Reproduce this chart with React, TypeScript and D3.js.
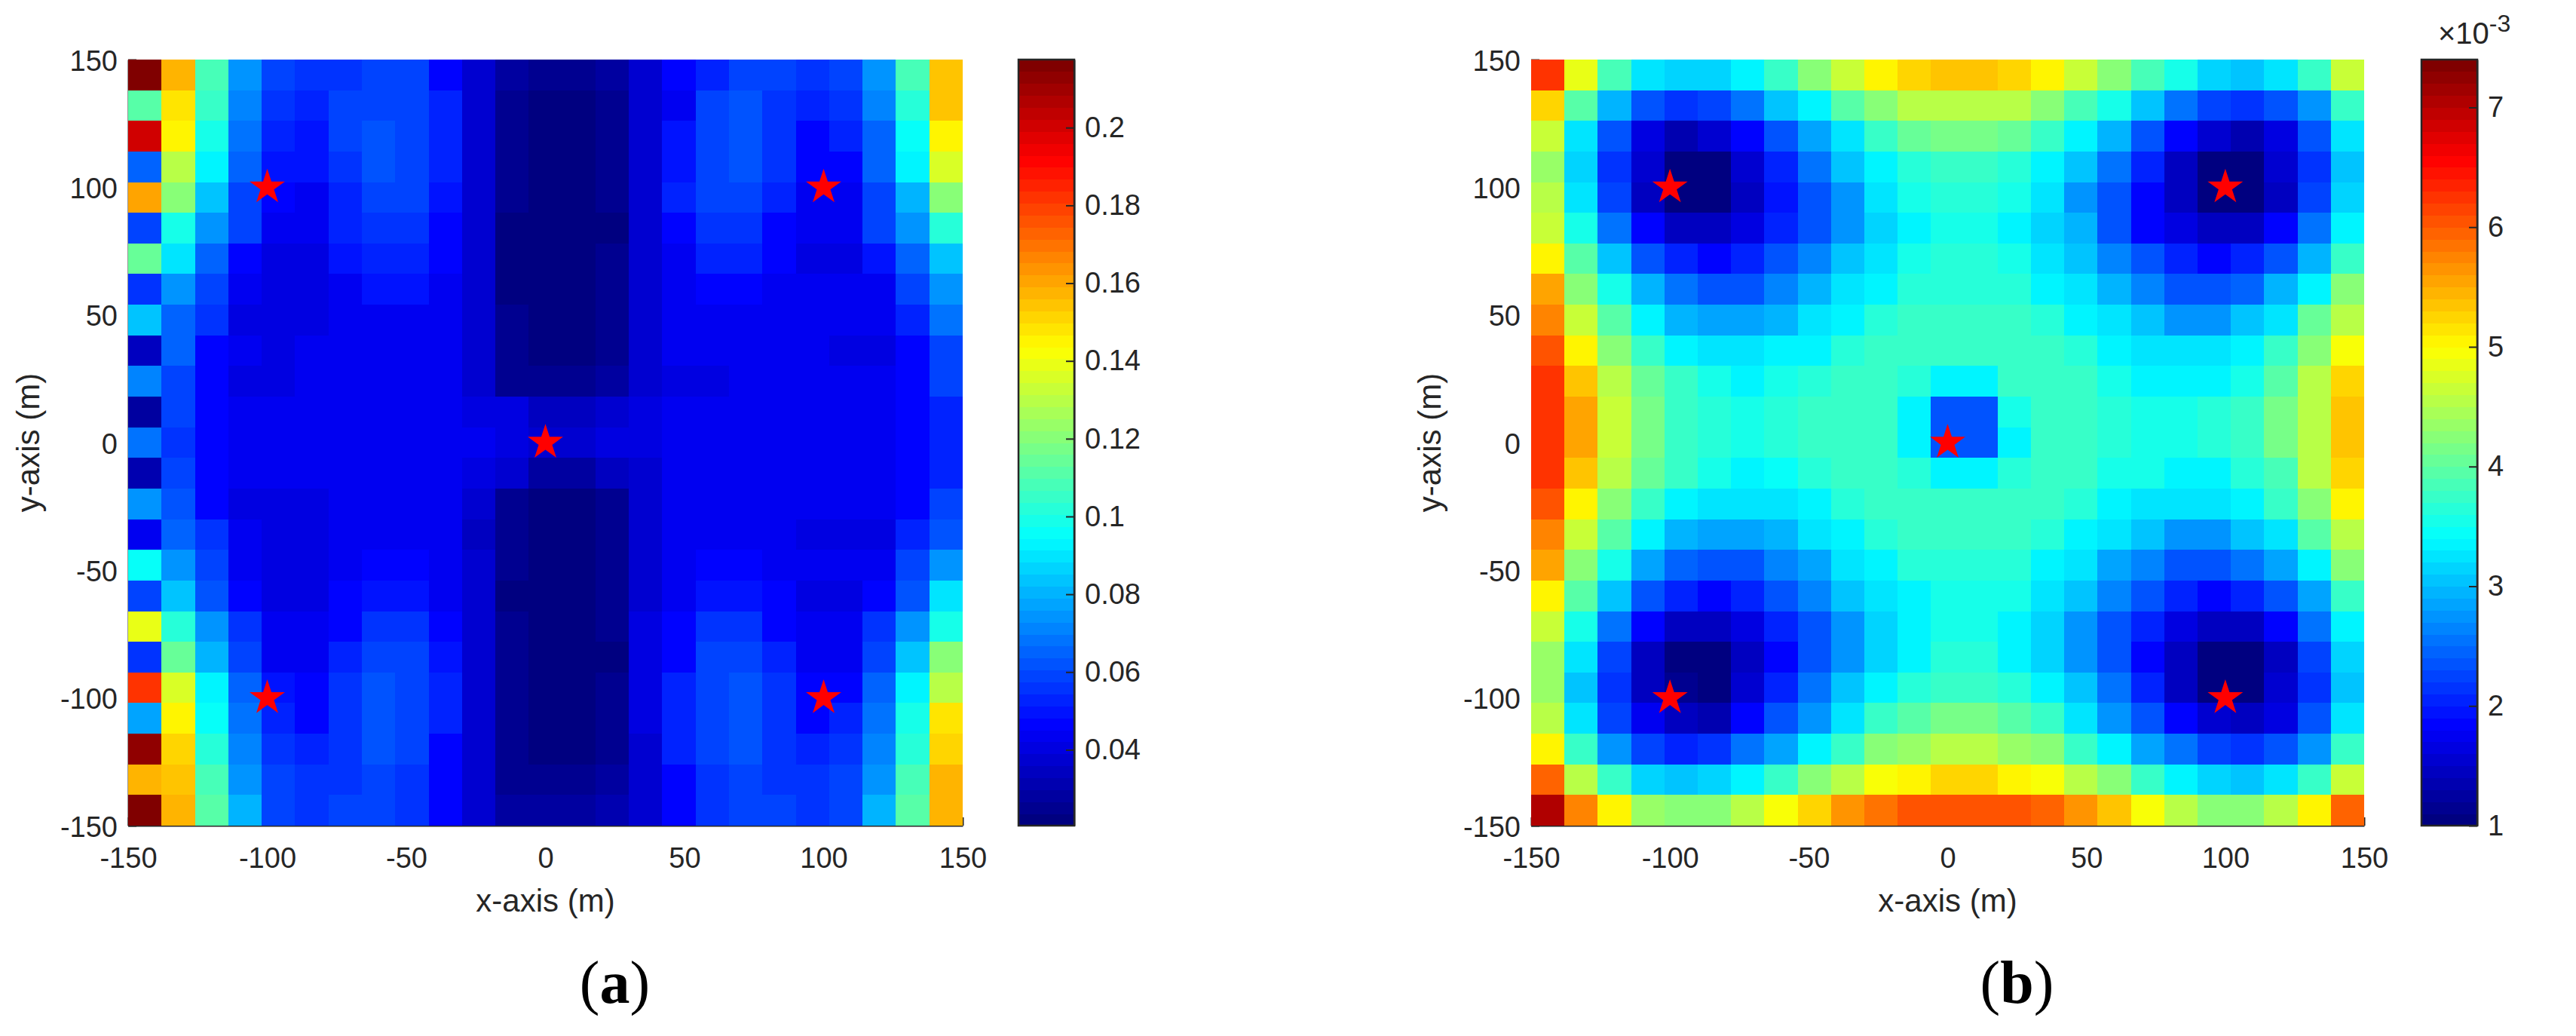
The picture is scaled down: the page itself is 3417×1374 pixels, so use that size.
import React, { useEffect, useRef } from 'react';
import * as d3 from 'd3';

// values in units of 1e-3, rows run from y = 150 down to y = -150
const rowsA = [
  [217,158,107,73,59,56,56,59,58,48,38,27,25,25,27,38,47,53,58,58,55,58,73,107,155],
  [110,148,104,70,56,53,58,60,59,53,38,26,22,22,26,38,45,58,61,55,52,55,70,102,153],
  [200,146,99,67,53,50,58,61,59,53,37,26,22,22,26,38,50,58,61,55,48,52,66,97,144],
  [64,131,94,66,50,49,56,61,58,53,37,26,22,22,26,38,50,58,61,55,47,47,66,94,135],
  [162,119,85,60,47,45,54,59,59,50,37,25,22,22,25,37,52,58,58,53,45,45,59,82,119],
  [60,99,73,58,44,44,53,56,56,48,36,23,22,22,21,38,46,55,55,47,45,45,58,73,102],
  [114,90,66,48,42,42,50,53,53,46,36,23,22,21,24,38,45,52,52,47,42,42,50,64,85],
  [56,73,60,45,42,42,43,50,50,45,36,23,21,21,24,36,43,48,48,45,43,43,45,58,73],
  [85,66,55,42,42,42,44,45,45,43,36,24,23,23,26,36,43,45,45,45,43,43,45,52,67],
  [34,64,46,44,42,43,44,45,45,44,37,26,23,23,26,36,43,45,45,45,43,42,42,46,58],
  [70,60,47,42,42,44,45,45,45,44,37,26,25,25,27,36,41,42,45,45,45,45,45,46,58],
  [27,58,47,45,45,45,45,45,45,45,42,41,35,35,37,41,43,45,45,45,45,45,45,46,53],
  [67,55,46,45,45,45,45,45,45,45,43,42,38,38,40,42,43,45,45,45,45,45,45,46,53],
  [30,59,47,45,43,45,45,45,44,43,40,38,27,27,33,37,43,45,45,45,45,43,43,46,53],
  [75,62,47,42,42,42,44,45,45,44,36,26,23,23,26,36,43,45,45,45,45,43,45,46,60],
  [45,66,56,45,42,42,43,44,44,43,35,24,23,21,24,36,43,45,45,45,42,42,42,52,63],
  [97,73,58,45,42,42,43,46,46,44,36,24,21,21,26,37,45,46,46,45,43,43,45,58,73],
  [58,85,63,46,42,42,46,51,51,45,36,23,21,21,26,37,45,51,51,47,42,42,46,63,90],
  [138,102,73,55,45,45,46,55,55,47,36,24,21,21,25,40,46,55,55,47,45,45,56,73,100],
  [56,113,82,58,45,45,52,59,59,50,38,24,21,21,21,40,47,59,59,52,45,45,58,83,119],
  [181,135,94,64,50,48,55,61,58,52,38,24,21,21,26,40,52,58,61,55,48,48,64,92,131],
  [76,144,97,67,52,47,56,61,59,52,38,24,21,21,26,40,52,58,61,55,48,52,67,99,147],
  [212,151,102,70,55,52,56,61,59,48,38,24,21,21,26,38,52,58,61,55,52,55,70,102,150],
  [158,155,107,73,59,56,56,58,56,48,38,26,24,24,27,38,48,55,58,56,56,58,73,107,156],
  [217,158,112,79,60,56,58,58,56,48,38,28,28,28,30,38,48,55,58,58,55,59,79,112,158],
];

const rowsB = [
  [6.2,4.85,3.85,3.3,3.1,3.1,3.4,3.8,4.25,4.65,5,5.2,5.3,5.3,5.2,5,4.65,4.25,3.9,3.5,3.1,3,3.2,3.8,4.65],
  [5.2,3.95,2.9,2.3,2.1,2.2,2.55,3,3.4,3.95,4.2,4.5,4.6,4.6,4.5,4.25,3.9,3.5,3,2.55,2.25,2.15,2.3,2.8,3.7],
  [4.65,3.3,2.3,1.7,1.35,1.5,1.9,2.3,2.85,3.3,3.7,4,4.1,4.1,4,3.7,3.4,2.9,2.4,1.9,1.5,1.35,1.7,2.3,3.2],
  [4.35,3.1,2.15,1.5,1.08,1.08,1.5,2.05,2.55,3,3.4,3.6,3.8,3.8,3.6,3.4,3,2.55,2.05,1.45,1.08,1.08,1.5,2.15,3],
  [4.5,3.2,2.2,1.45,1.08,1.05,1.45,1.95,2.4,2.8,3.2,3.5,3.6,3.6,3.5,3.2,2.8,2.4,1.9,1.4,1.05,1.05,1.45,2.2,3.1],
  [4.65,3.5,2.55,1.9,1.45,1.4,1.65,2,2.4,2.8,3.15,3.4,3.5,3.5,3.4,3.15,2.9,2.4,1.9,1.65,1.45,1.45,1.85,2.55,3.4],
  [5,3.95,3,2.4,2,1.9,2.05,2.3,2.6,3,3.3,3.5,3.6,3.6,3.5,3.3,3,2.6,2.3,2,1.9,2,2.3,2.9,3.8],
  [5.5,4.25,3.5,2.9,2.55,2.4,2.4,2.6,2.9,3.2,3.4,3.6,3.6,3.6,3.6,3.4,3.2,2.9,2.6,2.4,2.4,2.45,2.9,3.4,4.2],
  [5.8,4.65,3.95,3.4,2.9,2.85,2.85,2.95,3.2,3.4,3.6,3.7,3.75,3.75,3.75,3.6,3.4,3.2,3,2.8,2.8,3,3.3,4,4.6],
  [6,5,4.25,3.7,3.4,3.2,3.2,3.35,3.4,3.6,3.7,3.75,3.75,3.75,3.75,3.75,3.6,3.4,3.3,3.2,3.2,3.4,3.7,4.2,4.9],
  [6.2,5.3,4.5,4,3.7,3.5,3.4,3.5,3.6,3.7,3.7,3.6,3.4,3.4,3.7,3.7,3.7,3.5,3.4,3.4,3.4,3.5,3.95,4.5,5.2],
  [6.3,5.5,4.65,4.1,3.8,3.6,3.5,3.6,3.7,3.7,3.7,3.4,2.3,2.4,3.5,3.75,3.75,3.6,3.5,3.5,3.6,3.7,4.1,4.6,5.3],
  [6.3,5.5,4.65,4.1,3.8,3.6,3.5,3.6,3.7,3.7,3.7,3.4,2.4,2.4,3.4,3.75,3.75,3.6,3.5,3.5,3.6,3.7,4.1,4.6,5.3],
  [6.2,5.3,4.5,4,3.7,3.5,3.4,3.45,3.6,3.7,3.7,3.6,3.4,3.4,3.6,3.7,3.7,3.5,3.5,3.4,3.4,3.6,3.9,4.5,5.2],
  [6,5,4.25,3.8,3.4,3.2,3.2,3.3,3.4,3.6,3.7,3.7,3.7,3.7,3.7,3.7,3.6,3.4,3.3,3.2,3.2,3.4,3.7,4.2,5],
  [5.8,4.65,3.95,3.4,2.9,2.85,2.85,2.95,3.2,3.4,3.6,3.7,3.7,3.7,3.7,3.6,3.4,3.2,3,2.8,2.8,3,3.3,3.95,4.6],
  [5.5,4.25,3.5,2.85,2.45,2.4,2.4,2.6,2.85,3.2,3.4,3.6,3.6,3.6,3.6,3.4,3.2,2.85,2.6,2.4,2.4,2.5,2.85,3.4,4.2],
  [5,3.95,3,2.4,2.05,1.9,2.05,2.3,2.6,3,3.3,3.4,3.5,3.5,3.5,3.3,3,2.6,2.3,2.05,1.9,2.05,2.3,2.85,3.8],
  [4.65,3.5,2.55,1.9,1.45,1.45,1.65,2.05,2.4,2.8,3.15,3.4,3.5,3.5,3.4,3.15,2.8,2.4,2.05,1.65,1.45,1.45,1.9,2.55,3.4],
  [4.35,3.2,2.2,1.45,1.08,1.05,1.45,1.85,2.4,2.8,3.15,3.4,3.6,3.6,3.4,3.15,2.8,2.4,1.85,1.4,1.05,1.05,1.45,2.2,3.1],
  [4.35,3,2.15,1.4,1.1,1.05,1.5,2.05,2.5,3,3.4,3.6,3.7,3.7,3.6,3.4,3,2.5,2.05,1.45,1.08,1.08,1.5,2.15,3],
  [4.5,3.2,2.2,1.75,1.4,1.35,1.9,2.3,2.8,3.3,3.8,3.95,4.15,4.15,3.95,3.7,3.3,2.8,2.3,1.9,1.5,1.4,1.7,2.3,3.2],
  [5,3.75,2.8,2.2,2.05,2.15,2.5,2.85,3.4,3.8,4.2,4.35,4.55,4.55,4.35,4.2,3.8,3.4,2.85,2.5,2.2,2.1,2.35,2.8,3.8],
  [5.9,4.6,3.7,3.1,3,3.1,3.4,3.8,4.2,4.6,4.9,5.1,5.2,5.2,5.1,4.9,4.6,4.2,3.8,3.4,3.1,3,3.2,3.8,4.65],
  [7.1,5.8,5,4.35,4.2,4.25,4.5,4.9,5.25,5.65,5.85,6,6.1,6.1,6,5.9,5.65,5.3,4.9,4.6,4.25,4.25,4.5,5.1,5.95],
];

const axisTicks = [-150, -100, -50, 0, 50, 100, 150];
const barTicksA = [0.04, 0.06, 0.08, 0.1, 0.12, 0.14, 0.16, 0.18, 0.2];
const barTicksB = [1, 2, 3, 4, 5, 6, 7];
const domainA = [0.0205, 0.2175];
const domainB = [1, 7.4];
const starsX = [-100, 100, 0, -100, 100];
const starsY = [100, 100, 0, -100, -100];

const TEXT = '#262626';
const SANS = '"Liberation Sans", Arial, sans-serif';

// matlab jet, 64 steps
const jetAt = (t: number) => {
  const ramp = (v: number) => Math.round(255 * Math.max(0, Math.min(1, v)));
  const r = ramp(Math.min(4 * t - 1.5, -4 * t + 4.5));
  const g = ramp(Math.min(4 * t - 0.5, -4 * t + 3.5));
  const b = ramp(Math.min(4 * t + 0.5, -4 * t + 2.5));
  return `rgb(${r},${g},${b})`;
};
const jet = d3.range(64).map(i => jetAt(i / 63));

const drawPanel = (svg, cfg) => {
  const { left, right, top, bottom, barLeft, barRight, rows, scale, domain, barTicks, hasLeftLine, tag, labelX } = cfg;

  const x = d3.scaleLinear().domain([-150, 150]).range([left, right]);
  const y = d3.scaleLinear().domain([-150, 150]).range([bottom, top]);
  const col = d3.scaleBand().domain(d3.range(25)).range([left, right]);
  const row = d3.scaleBand().domain(d3.range(25)).range([top, bottom]);
  const color = d3.scaleQuantize().domain(domain).range(jet);

  const styleAxis = g => {
    g.selectAll('text').attr('fill', TEXT).style('font-family', SANS).style('font-size', '38px');
    g.selectAll('line').attr('stroke', TEXT).attr('stroke-width', 2);
    g.select('.domain').attr('stroke', TEXT).attr('stroke-width', 2);
  };

  // axes go first, the image sits on top of the inward ticks like in matlab
  svg.append('g')
    .attr('transform', `translate(0,${bottom})`)
    .call(d3.axisBottom(x).tickValues(axisTicks).tickFormat(String).tickSizeInner(-11).tickSizeOuter(0).tickPadding(29))
    .call(styleAxis);

  const yAxis = svg.append('g')
    .attr('transform', `translate(${left},0)`)
    .call(d3.axisLeft(y).tickValues(axisTicks).tickFormat(String).tickSizeInner(-11).tickSizeOuter(0).tickPadding(14))
    .call(styleAxis);
  yAxis.selectAll('text').attr('dy', '0.37em');
  if (!hasLeftLine) yAxis.select('.domain').remove();

  rows.forEach((values, r) => {
    svg.append('g').selectAll('rect')
      .data(values)
      .enter().append('rect')
      .attr('x', (d, c) => col(c))
      .attr('y', row(r))
      .attr('width', col.bandwidth())
      .attr('height', row.bandwidth())
      .attr('fill', d => color(d * scale))
      .attr('shape-rendering', 'crispEdges');
  });

  svg.append('g').selectAll('path')
    .data(starsX)
    .enter().append('path')
    .attr('d', d3.symbol(d3.symbolStar, 685))
    .attr('transform', (d, i) => `translate(${x(d)},${y(starsY[i])})`)
    .attr('fill', '#ff0000');

  // colorbar
  const barScale = d3.scaleLinear().domain(domain).range([bottom, top]);
  const band = d3.scaleBand().domain(d3.range(64)).range([bottom, top]);
  svg.append('g').selectAll('rect')
    .data(jet)
    .enter().append('rect')
    .attr('x', barLeft)
    .attr('y', (d, i) => band(i))
    .attr('width', barRight - barLeft)
    .attr('height', band.bandwidth() + 0.5)
    .attr('fill', d => d)
    .attr('shape-rendering', 'crispEdges');

  svg.append('g')
    .attr('transform', `translate(${barRight},0)`)
    .call(d3.axisRight(barScale).tickValues(barTicks).tickFormat(String).tickSizeInner(-11).tickSizeOuter(0).tickPadding(14))
    .call(styleAxis);

  svg.append('rect')
    .attr('x', barLeft)
    .attr('y', top)
    .attr('width', barRight - barLeft)
    .attr('height', bottom - top)
    .attr('fill', 'none')
    .attr('stroke', TEXT)
    .attr('stroke-width', 2.5);

  // axis titles
  svg.append('text')
    .attr('x', (left + right) / 2)
    .attr('y', bottom + 114)
    .attr('text-anchor', 'middle')
    .attr('fill', TEXT)
    .style('font-family', SANS)
    .style('font-size', '42px')
    .text('x-axis (m)');

  svg.append('text')
    .attr('transform', `translate(${labelX},${(top + bottom) / 2}) rotate(-90)`)
    .attr('text-anchor', 'middle')
    .attr('fill', TEXT)
    .style('font-family', SANS)
    .style('font-size', '42px')
    .text('y-axis (m)');

  // panel tag
  const caption = svg.append('text')
    .attr('x', (left + right) / 2 + 92)
    .attr('y', 1330)
    .attr('text-anchor', 'middle')
    .attr('fill', '#000000')
    .style('font-family', '"Liberation Serif", "Times New Roman", serif')
    .style('font-size', '80px');
  caption.append('tspan').text('(');
  caption.append('tspan').style('font-weight', 'bold').text(tag);
  caption.append('tspan').text(')');
};

const App = () => {
  const svgRef = useRef();

  useEffect(() => {
    const svg = d3.select(svgRef.current);
    svg.selectAll('*').remove();

    drawPanel(svg, {
      left: 170, right: 1277, top: 79, bottom: 1095,
      barLeft: 1351, barRight: 1425,
      rows: rowsA, scale: 0.001, domain: domainA, barTicks: barTicksA,
      hasLeftLine: true, tag: 'a', labelX: 52,
    });
    drawPanel(svg, {
      left: 2031, right: 3136, top: 79, bottom: 1095,
      barLeft: 3212, barRight: 3286,
      rows: rowsB, scale: 1, domain: domainB, barTicks: barTicksB,
      hasLeftLine: false, tag: 'b', labelX: 1911,
    });

    // exponent above the second colorbar
    const exponent = svg.append('text')
      .attr('x', 3234)
      .attr('y', 58)
      .attr('fill', TEXT)
      .style('font-family', SANS)
      .style('font-size', '40px');
    exponent.append('tspan').text('×10');
    exponent.append('tspan').attr('dy', -16).style('font-size', '32px').text('-3');
  }, []);

  return (
    <svg
      ref={svgRef}
      width={3417}
      height={1374}
      style={{ position: 'absolute', left: 0, top: 0, background: '#ffffff' }}
    />
  );
};

export default App;
